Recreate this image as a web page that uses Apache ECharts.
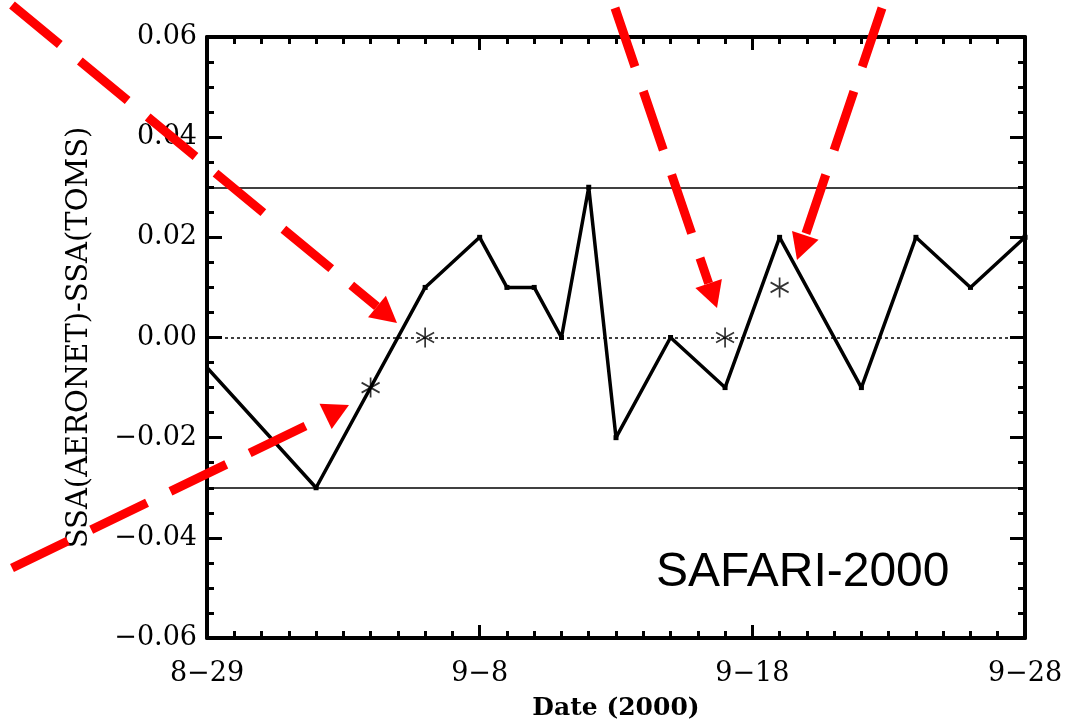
<!DOCTYPE html>
<html>
<head>
<meta charset="utf-8">
<script src="https://cdn.jsdelivr.net/npm/echarts@6/dist/echarts.min.js"></script>
<style>
  html, body { margin: 0; padding: 0; background: #fff; }
  #main { width: 1066px; height: 721px; }
</style>
</head>
<body>
<div id="main"></div>
<script>
  // days counted from 8-29 (day 0); first point lies one day before the axis and is clipped
  var lineDays = [-1, 4, 8, 10, 11, 12, 13, 14, 15, 17, 19, 21, 24, 26, 28, 30];
  var lineValues = [0.00, -0.03, 0.01, 0.02, 0.01, 0.01, 0.00, 0.03, -0.02, 0.00, -0.01, 0.02, -0.01, 0.02, 0.01, 0.02];
  // asterisk points
  var starDays = [6, 8, 19, 21];
  var starValues = [-0.01, 0.00, 0.00, 0.01];
  // tick labels
  var xTickLabels = ['8\u221229', '9\u22128', '9\u221218', '9\u221228'];
  var yTickLabels = ['\u22120.06', '\u22120.04', '\u22120.02', '0.00', '0.02', '0.04', '0.06'];
  var limitLines = [0.03, -0.03];

  var chart = echarts.init(document.getElementById('main'));

  var serif = 'DejaVu Serif';

  // red dashed annotation arrows (pixel coords)
  function arrow(x0, y0, x1, y1) {
    var dx = x1 - x0, dy = y1 - y0;
    var len = Math.sqrt(dx * dx + dy * dy);
    var ux = dx / len, uy = dy / len;
    var headLen = 26, headW = 14;
    var bx = x1 - ux * headLen, by = y1 - uy * headLen;
    return [
      {
        type: 'line',
        shape: {x1: x0, y1: y0, x2: bx, y2: by},
        style: {stroke: '#ff0000', lineWidth: 9, lineDash: [62, 26], lineCap: 'butt'},
        z: 100
      },
      {
        type: 'polygon',
        shape: {points: [[x1, y1], [bx - uy * headW, by + ux * headW], [bx + uy * headW, by - ux * headW]]},
        style: {fill: '#ff0000'},
        z: 100
      }
    ];
  }

  var graphics = [].concat(
    arrow(12, 5, 397, 323),
    arrow(12, 568, 349, 405),
    arrow(615, 8, 717, 308),
    arrow(882, 8, 797, 260)
  );
  graphics.push({
    type: 'text',
    left: 656,
    top: 549,
    style: {text: 'SAFARI-2000', font: '48px "Liberation Sans"', fill: '#000'},
    z: 50
  });

  var xBase = {
    type: 'value',
    min: 0,
    max: 30,
    interval: 10,
    axisLine: {show: true, onZero: false, lineStyle: {color: '#000', width: 4}},
    axisTick: {show: true, inside: true, length: 13, lineStyle: {color: '#000', width: 3}},
    minorTick: {show: true, splitNumber: 10, length: 7, lineStyle: {color: '#000', width: 3}},
    splitLine: {show: false},
    minorSplitLine: {show: false}
  };
  var yBase = {
    type: 'value',
    min: -0.06,
    max: 0.06,
    interval: 0.02,
    axisLine: {show: true, onZero: false, lineStyle: {color: '#000', width: 4}},
    axisTick: {show: true, inside: true, length: 15, lineStyle: {color: '#000', width: 3}},
    minorTick: {show: true, splitNumber: 4, length: 7, lineStyle: {color: '#000', width: 3}},
    splitLine: {show: false},
    minorSplitLine: {show: false}
  };

  chart.setOption({
    backgroundColor: '#fff',
    animation: false,
    grid: {left: 207, right: 41, top: 37, bottom: 83, containLabel: false, outerBoundsMode: 'none'},
    xAxis: [
      Object.assign({}, xBase, {
        position: 'bottom',
        name: 'Date (2000)',
        nameLocation: 'middle',
        nameGap: 58,
        nameTextStyle: {fontFamily: serif, fontWeight: 'bold', fontSize: 25, color: '#000'},
        axisLabel: {
          margin: 22,
          fontFamily: serif,
          fontSize: 27,
          color: '#000',
          formatter: function (v) { return xTickLabels[Math.round(v / 10)]; }
        }
      }),
      Object.assign({}, xBase, {position: 'top', axisLabel: {show: false}})
    ],
    yAxis: [
      Object.assign({}, yBase, {
        position: 'left',
        name: 'SSA(AERONET)-SSA(TOMS)',
        nameLocation: 'middle',
        nameGap: 113,
        nameTextStyle: {fontFamily: serif, fontSize: 29, color: '#000'},
        axisLabel: {
          margin: 10,
          fontFamily: serif,
          fontSize: 27,
          color: '#000',
          formatter: function (v) { return yTickLabels[Math.round(v / 0.02) + 3]; }
        }
      }),
      Object.assign({}, yBase, {position: 'right', axisLabel: {show: false}})
    ],
    series: [
      {
        type: 'line',
        data: lineDays.map(function (d, i) { return [d, lineValues[i]]; }),
        clip: true,
        symbol: 'rect',
        symbolSize: 5,
        showSymbol: true,
        itemStyle: {color: '#000'},
        lineStyle: {color: '#000', width: 3.5},
        markLine: {
          silent: true,
          symbol: 'none',
          label: {show: false},
          data: [
            {yAxis: limitLines[0], lineStyle: {color: '#000', width: 1.5, type: 'solid'}},
            {yAxis: limitLines[1], lineStyle: {color: '#000', width: 1.5, type: 'solid'}},
            {yAxis: 0, lineStyle: {color: '#000', width: 1.5, type: [3, 3]}}
          ]
        },
        z: 3
      },
      {
        type: 'scatter',
        data: starDays.map(function (d, i) { return [d, starValues[i]]; }),
        symbol: 'path://M0,-10L0,10M-8.66,-5L8.66,5M-8.66,5L8.66,-5',
        symbolSize: [18, 20],
        itemStyle: {color: 'transparent', borderColor: '#000', borderWidth: 1.8},
        z: 4
      }
    ],
    graphic: graphics
  });
</script>
</body>
</html>
